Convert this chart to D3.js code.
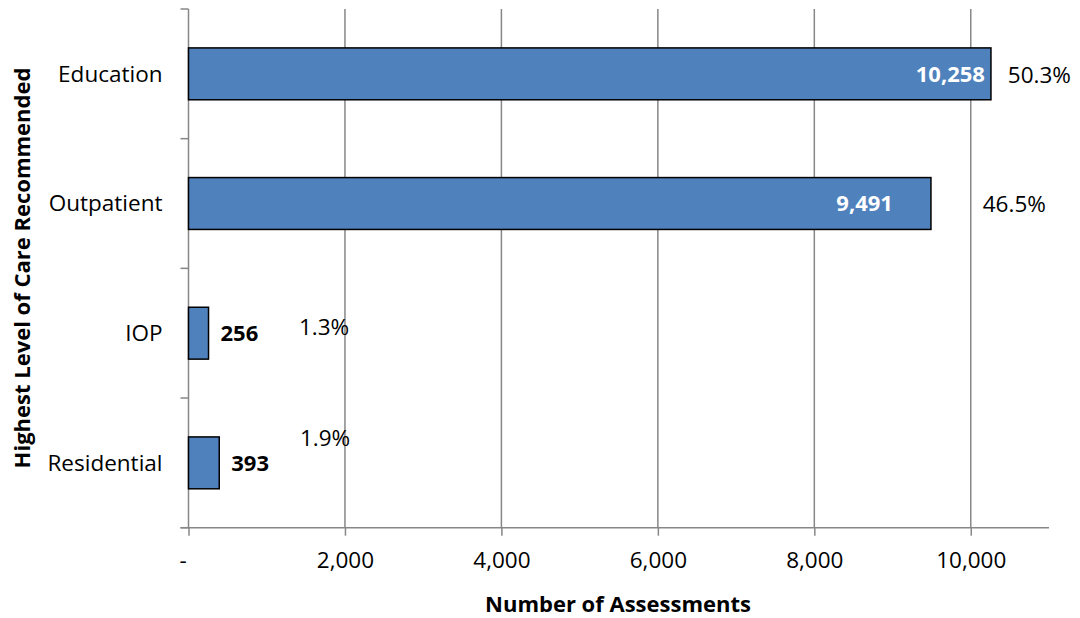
<!DOCTYPE html>
<html>
<head>
<meta charset="utf-8">
<script src="https://cdn.jsdelivr.net/npm/d3@7"></script>
<style>
body { margin: 0; background: #fff; }
text { font-family: "Open Sans", "Liberation Sans", sans-serif; fill: #000; }
</style>
</head>
<body>
<svg width="1080" height="618"></svg>
<script>
// categories, top to bottom
var categories = ["Education", "Outpatient", "IOP", "Residential"];
var assessments = [10258, 9491, 256, 393];
var percentLabels = ["50.3%", "46.5%", "1.3%", "1.9%"];
var xTicks = [0, 2000, 4000, 6000, 8000, 10000];

// where the percentage labels sit (x in data units, dy in px)
var pctAnchor = [10473, 10153, 1412, 1425];
var pctDy = [1, 0, -6, -25];
// value label placement: inside (white) for big bars, outside for small
var valInside = [true, true, false, false];
var valDx = [-6, -38, 12, 12];

var plotLeft = 188.5, plotRight = 1049, plotTop = 9, plotBottom = 527.7;
var grey = "#878787";

var xs = d3.scaleLinear().domain([0, 11000]).range([plotLeft, plotRight]);
var ys = d3.scaleBand().domain(categories).range([plotTop, plotBottom])
  .paddingInner(0.6).paddingOuter(0.3);

var svg = d3.select('svg');

// vertical gridlines
svg.append('g')
  .selectAll('line')
  .data(xTicks.filter(function(d) { return d > 0; }))
  .enter()
  .append('line')
  .attr('x1', function(d) { return xs(d); })
  .attr('x2', function(d) { return xs(d); })
  .attr('y1', plotTop).attr('y2', plotBottom)
  .attr('stroke', grey).attr('stroke-width', 1.5);

// x axis
var xAxis = svg.append('g')
  .attr('transform', 'translate(0,' + plotBottom + ')')
  .call(d3.axisBottom(xs)
    .tickValues(xTicks)
    .tickSizeOuter(0)
    .tickSizeInner(8)
    .tickPadding(16)
    .tickFormat(function(d) { return d === 0 ? '-' : d3.format(',')(d); }));
xAxis.select('.domain').attr('stroke', grey).attr('stroke-width', 1.5)
  .attr('d', 'M' + (plotLeft - 8) + ',0H' + plotRight);
xAxis.selectAll('.tick line').attr('stroke', grey).attr('stroke-width', 1.5);
xAxis.selectAll('.tick text').style('font-size', '22.5px').attr('fill', '#000');
xAxis.selectAll('.tick').filter(function(d) { return d === 0; })
  .select('text').attr('dx', -6);

// y axis line and ticks at band boundaries
svg.append('line')
  .attr('x1', plotLeft).attr('x2', plotLeft)
  .attr('y1', plotTop).attr('y2', plotBottom)
  .attr('stroke', grey).attr('stroke-width', 1.5);
var step = ys.step();
svg.append('g')
  .selectAll('line')
  .data(d3.range(categories.length + 1))
  .enter()
  .append('line')
  .attr('x1', plotLeft - 8).attr('x2', plotLeft)
  .attr('y1', function(i) { return plotTop + i * step; })
  .attr('y2', function(i) { return plotTop + i * step; })
  .attr('stroke', grey).attr('stroke-width', 1.5);

// category labels
svg.append('g')
  .selectAll('text')
  .data(categories)
  .enter()
  .append('text')
  .attr('x', plotLeft - 26)
  .attr('y', function(d) { return ys(d) + ys.bandwidth() / 2; })
  .attr('dy', '0.35em')
  .attr('text-anchor', 'end')
  .style('font-size', '22.5px')
  .text(function(d) { return d; });

// bars
svg.append('g')
  .selectAll('rect')
  .data(assessments)
  .enter()
  .append('rect')
  .attr('x', xs(0))
  .attr('y', function(d, i) { return ys(categories[i]); })
  .attr('width', function(d) { return xs(d) - xs(0); })
  .attr('height', ys.bandwidth())
  .attr('fill', '#4F81BD')
  .attr('stroke', '#000')
  .attr('stroke-width', 1.5);

// value labels
svg.append('g')
  .selectAll('text')
  .data(assessments)
  .enter()
  .append('text')
  .attr('x', function(d, i) { return xs(d) + valDx[i]; })
  .attr('y', function(d, i) { return ys(categories[i]) + ys.bandwidth() / 2; })
  .attr('dy', '0.36em')
  .attr('text-anchor', function(d, i) { return valInside[i] ? 'end' : 'start'; })
  .style('font-size', '22px')
  .style('font-weight', 'bold')
  .style('fill', function(d, i) { return valInside[i] ? '#fff' : '#000'; })
  .text(function(d) { return d3.format(',')(d); });

// percentage labels
svg.append('g')
  .selectAll('text')
  .data(percentLabels)
  .enter()
  .append('text')
  .attr('x', function(d, i) { return xs(pctAnchor[i]); })
  .attr('y', function(d, i) { return ys(categories[i]) + ys.bandwidth() / 2 + pctDy[i]; })
  .attr('dy', '0.36em')
  .style('font-size', '22.5px')
  .text(function(d) { return d; });

// axis titles
svg.append('text')
  .attr('x', 618)
  .attr('y', 612)
  .attr('text-anchor', 'middle')
  .style('font-size', '22px')
  .style('font-weight', 'bold')
  .text('Number of Assessments');

svg.append('text')
  .attr('transform', 'translate(30,268) rotate(-90)')
  .attr('text-anchor', 'middle')
  .style('font-size', '22px')
  .style('font-weight', 'bold')
  .text('Highest Level of Care Recommended');
</script>
</body>
</html>
